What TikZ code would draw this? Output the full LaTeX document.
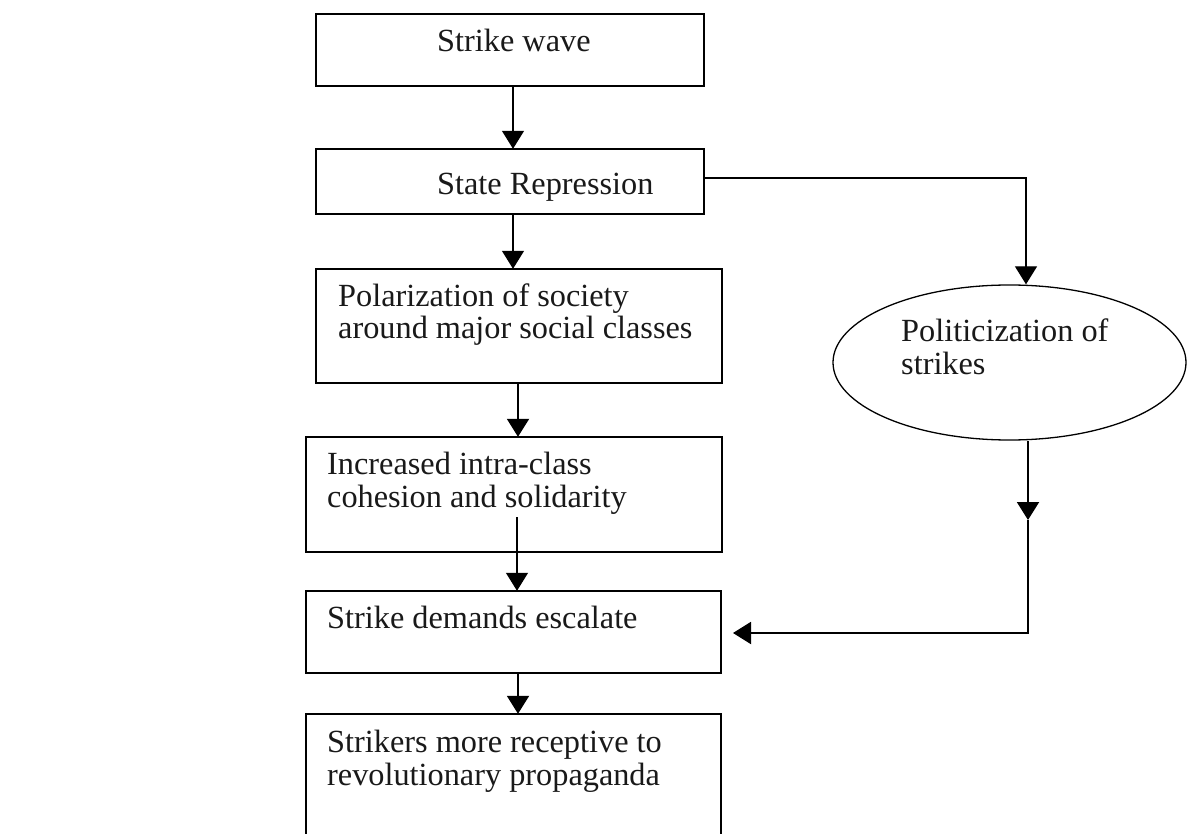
\documentclass[tikz,border=0pt]{standalone}
\usepackage{fontspec}
\setmainfont{Liberation Serif}
\usetikzlibrary{arrows.meta,shapes.geometric}
\tikzset{
  flowbox/.style={draw=black, line width=2.3pt, fill=none},
  txt/.style={anchor=base west, inner sep=0pt, font=\fontsize{32.3}{33}\selectfont, text=black!90},
  thinarrow/.style={line width=1.3pt, -{Triangle[width=22pt,length=18pt]}},
  thickarrow/.style={line width=2pt, -{Triangle[width=22pt,length=18pt]}},
  thinline/.style={line width=1.3pt},
  thickline/.style={line width=2pt}
}
\begin{document}
\begin{tikzpicture}[x=1pt,y=-1pt]
\clip (0,0) rectangle (1203,834);
\fill[white] (0,0) rectangle (1203,834);

% boxes
\draw[flowbox] (316,14) rectangle (704,86);
\node[inner sep=0pt, minimum width=388pt, minimum height=72pt] (b1) at (510,50) {};
\draw[flowbox] (316,149) rectangle (704,214);
\node[inner sep=0pt, minimum width=388pt, minimum height=65pt] (b2) at (510,181.5) {};
\draw[flowbox] (316,269) rectangle (722,383);
\node[inner sep=0pt, minimum width=406pt, minimum height=114pt] (b3) at (519,326) {};
\draw[flowbox] (306,437) rectangle (722,552);
\node[inner sep=0pt, minimum width=416pt, minimum height=115pt] (b4) at (514,494.5) {};
\draw[flowbox] (306,591) rectangle (721,673);
\node[inner sep=0pt, minimum width=415pt, minimum height=82pt] (b5) at (513.5,632) {};
\draw[flowbox] (306,714) rectangle (721,860);
\node[inner sep=0pt, minimum width=415pt, minimum height=146pt] (b6) at (513.5,787) {};

% ellipse
\node[draw=black, line width=1.3pt, ellipse, inner sep=0pt, minimum width=353pt, minimum height=155pt] (el) at (1009.5,362.5) {};

% texts
\node[txt] (t1) at (437,52) {Strike wave};
\node[txt] (t2) at (437,195) {State Repression};
\node[txt] (t3a) at (338,307) {Polarization of society};
\node[txt] (t3b) at (338,339) {around major social classes};
\node[txt] (t4a) at (327,475) {Increased intra-class};
\node[txt] (t4b) at (327,507) {cohesion and solidarity};
\node[txt] (t5) at (327,628) {Strike demands escalate};
\node[txt] (t6a) at (327,752) {Strikers more receptive to};
\node[txt] (t6b) at (327,785) {revolutionary propaganda};
\node[txt] (t7a) at (901,342) {Politicization of};
\node[txt] (t7b) at (901,375) {strikes};

% connectors
\draw[thinarrow] (b1.south -| 513,0) -- (b2.north -| 513,0);
\draw[thinarrow] (b2.south -| 513,0) -- (b3.north -| 513,0);
\draw[thickarrow] (b3.south -| 518,0) -- (b4.north -| 518,0);
\coordinate (s4) at (517,517);
\draw[thinarrow] (s4) -- (b5.north -| 517,0);
\draw[thickarrow] (b5.south -| 518,0) -- (b6.north -| 518,0);

\coordinate (c1) at (1026,178);
\draw[thinarrow] (b2.east |- c1) -- (c1) -- (el.north -| c1);

\coordinate (m1) at (1028,520);
\coordinate (c2) at (1028,633);
\coordinate (e5) at (733,633);
\draw[thickarrow] (el.south -| m1) -- (m1);
\draw[thickarrow] (m1) -- (c2) -- (e5);
\end{tikzpicture}
\end{document}
